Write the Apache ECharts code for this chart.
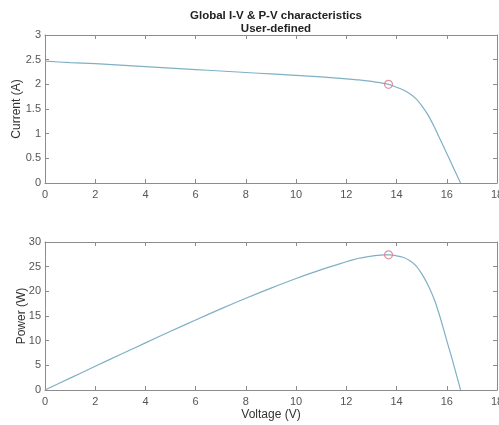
<!DOCTYPE html>
<html lang="en">
<head>
	<meta charset="UTF-8" />
	<title>Global I-V & P-V characteristics</title>
	<script src="https://cdn.jsdelivr.net/npm/echarts@6/dist/echarts.min.js"></script>
	<style>
		html, body { margin: 0; padding: 0; background: #fff; }
		#main { width: 499px; height: 425px; }
	</style>
</head>
<body>
<div id="main"></div>
<script>
	// voltage samples (V)
	var voltage = [0, 1, 2, 3, 4, 5, 6, 7, 8, 9, 10, 11, 12, 12.25, 12.5, 12.75, 13, 13.25, 13.5, 13.75,
		14, 14.25, 14.5, 14.75, 15, 15.25, 15.5, 15.75, 16, 16.2, 16.4, 16.55];
	// current (A)
	var current = [2.47, 2.44, 2.42, 2.39, 2.36, 2.33, 2.30, 2.27, 2.24, 2.21, 2.18, 2.15, 2.11, 2.10, 2.09, 2.075, 2.06, 2.04, 2.02, 1.99,
		1.94, 1.89, 1.82, 1.72, 1.57, 1.38, 1.14, 0.87, 0.60, 0.38, 0.16, 0];
	// power (W)
	var power = [0, 2.4, 4.8, 7.2, 9.55, 11.9, 14.2, 16.45, 18.6, 20.65, 22.6, 24.4, 26.0, 26.38, 26.7, 26.95, 27.15, 27.3, 27.38, 27.38,
		27.2, 26.9, 26.3, 25.3, 23.6, 21.3, 18.4, 14.5, 10.0, 6.5, 2.8, 0];
	// maximum power point
	var mppV = 13.68, mppI = 2.0, mppP = 27.4;

	var xTicks = ['0', '2', '4', '6', '8', '10', '12', '14', '16', '18'];

	var ivData = voltage.map(function (v, i) { return [v, current[i]]; });
	var pvData = voltage.map(function (v, i) { return [v, power[i]]; });

	var lineCol = '#7fb0c4';
	var axisCol = '#8c8c8c';
	var txtCol = '#555';
	var markCol = '#d9788e';
	var font = 'Liberation Sans';

	function xAx(grid, pos, labels, name) {
		return {
			type: 'value', gridIndex: grid, position: pos, min: 0, max: 18, interval: 2,
			name: name || '', nameLocation: 'middle', nameGap: 19, nameMoveOverlap: false,
			nameTextStyle: { color: '#333', fontSize: 12, fontFamily: font },
			axisLine: { show: true, onZero: false, lineStyle: { color: axisCol, width: 1 } },
			axisTick: { show: true, inside: true, length: 4, lineStyle: { color: axisCol } },
			axisLabel: { show: labels, color: txtCol, fontSize: 11, fontFamily: font, margin: 6,
				formatter: function (v) { return xTicks[v / 2]; } },
			splitLine: { show: false }
		};
	}
	function yAx(grid, pos, labels, max, step, name, gap) {
		return {
			type: 'value', gridIndex: grid, position: pos, min: 0, max: max, interval: step,
			name: name || '', nameLocation: 'middle', nameGap: gap, nameMoveOverlap: false,
			nameTextStyle: { color: '#333', fontSize: 12, fontFamily: font },
			axisLine: { show: true, onZero: false, lineStyle: { color: axisCol, width: 1 } },
			axisTick: { show: true, inside: true, length: 4, lineStyle: { color: axisCol } },
			axisLabel: { show: labels, color: txtCol, fontSize: 11, fontFamily: font, margin: 4 },
			splitLine: { show: false }
		};
	}

	var mychart = echarts.init(document.getElementById('main'), null, { renderer: 'canvas' });
	mychart.setOption({
		animation: false,
		backgroundColor: '#fff',
		title: {
			text: 'Global I-V & P-V characteristics\nUser-defined',
			left: 271, top: 4, textAlign: 'center',
			textStyle: { fontSize: 11.5, fontWeight: 'bold', color: '#222', fontFamily: font, lineHeight: 13 }
		},
		grid: [
			{ left: 45, right: 2, top: 35, height: 148, outerBoundsMode: 'none', containLabel: false },
			{ left: 45, right: 2, top: 242, height: 148, outerBoundsMode: 'none', containLabel: false }
		],
		xAxis: [
			xAx(0, 'bottom', true),
			xAx(0, 'top', false),
			xAx(1, 'bottom', true, 'Voltage (V)'),
			xAx(1, 'top', false)
		],
		yAxis: [
			yAx(0, 'left', true, 3, 0.5, 'Current (A)', 22),
			yAx(0, 'right', false, 3, 0.5),
			yAx(1, 'left', true, 30, 5, 'Power (W)', 17),
			yAx(1, 'right', false, 30, 5)
		],
		series: [
			{
				type: 'line', xAxisIndex: 0, yAxisIndex: 0, data: ivData, smooth: 0.3,
				showSymbol: false, lineStyle: { color: lineCol, width: 1.2 }
			},
			{
				type: 'scatter', xAxisIndex: 0, yAxisIndex: 0, data: [[mppV, mppI]], z: 5,
				symbol: 'circle', symbolSize: 8,
				itemStyle: { color: 'rgba(255,255,255,0)', borderColor: markCol, borderWidth: 1.2 }
			},
			{
				type: 'line', xAxisIndex: 2, yAxisIndex: 2, data: pvData, smooth: 0.3,
				showSymbol: false, lineStyle: { color: lineCol, width: 1.2 }
			},
			{
				type: 'scatter', xAxisIndex: 2, yAxisIndex: 2, data: [[mppV, mppP]], z: 5,
				symbol: 'circle', symbolSize: 8,
				itemStyle: { color: 'rgba(255,255,255,0)', borderColor: markCol, borderWidth: 1.2 }
			}
		]
	});
</script>
</body>
</html>
